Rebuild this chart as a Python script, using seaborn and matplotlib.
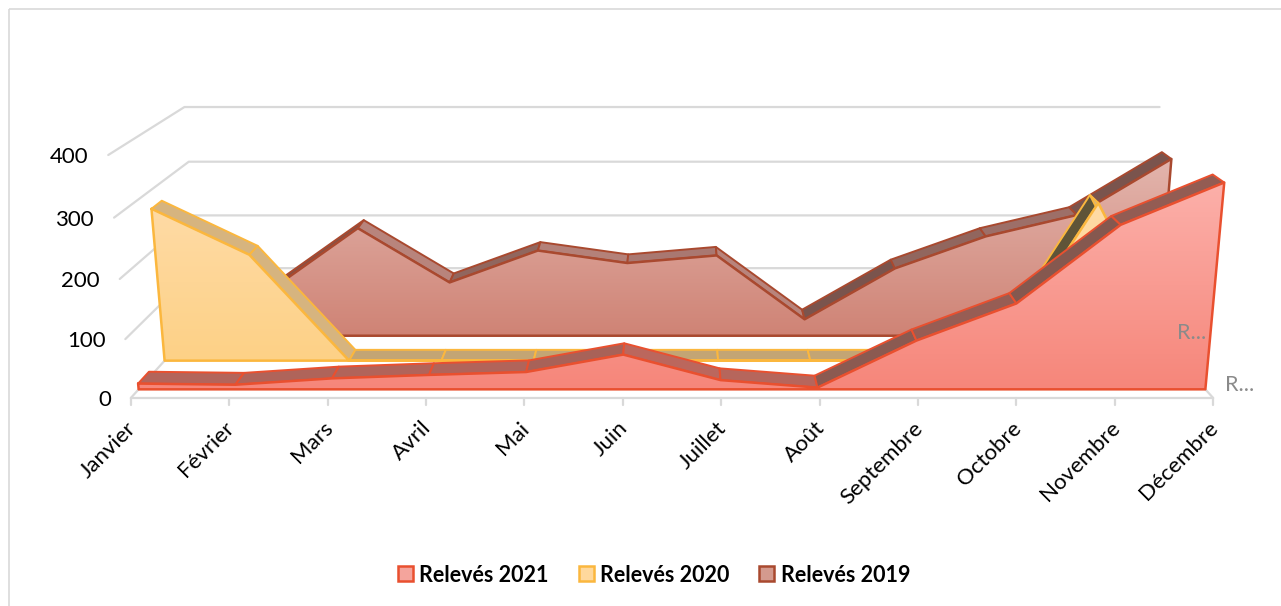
import numpy as np
import pandas as pd
import matplotlib
matplotlib.use("Agg")
import matplotlib.pyplot as plt
from matplotlib.patches import Polygon, Patch, Rectangle
import seaborn as sns

months = ["Janvier", "Février", "Mars", "Avril", "Mai", "Juin", "Juillet",
          "Août", "Septembre", "Octobre", "Novembre", "Décembre"]
value_ticks = [0, 100, 200, 300, 400]

releves_2021 = [10, 8, 19, 25, 30, 60, 16, 3, 84, 147, 278, 347]
releves_2020 = [269, 189, 0, 0, 0, 0, 0, 0, 0, 0, 279, 0]
releves_2019 = [100, 88, 200, 100, 159, 136, 150, 31, 126, 185, 224, 325]

# (name, values, front depth, edge, gradient top, gradient bottom, ribbon lit, ribbon dark)
series = [
    ("Relevés 2019", releves_2019, 0.775, "#a9492f", "#e3b5ad", "#cf8375", "#b8847c", "#7a544d"),
    ("Relevés 2020", releves_2020, 0.444, "#fbb73e", "#ffdba6", "#fdd186", "#d6b47f", "#5f5438"),
    ("Relevés 2021", releves_2021, 0.098, "#e9502f", "#fcb0aa", "#f6867a", "#bb675d", "#85584f"),
]
legend_fill = {"Relevés 2021": "#f4a49c", "Relevés 2020": "#ffd89c", "Relevés 2019": "#d49a8e"}
RIBBON = 0.14


def project(i, v, z):
    # perspective of the 3D chart box: i = month index, v = value, z = depth 0..1, gives pixels
    i, v, z = np.asarray(i, float), np.asarray(v, float) / 100.0, np.asarray(z, float)
    w = 1 + 0.15 * z - 0.01 * v
    px = 672 + 98.4 * (i - 5.5) / w
    py = (398 - 30 * z - 62.3 * v) / w
    return px, py


sns.set_theme(style="white")
plt.rcParams["font.family"] = ["Lato", "DejaVu Sans"]

fig = plt.figure(figsize=(12.81, 6.06), dpi=100)
ax = fig.add_axes([0, 0, 1, 1])
ax.axis("off")

# chart frame runs off the right and bottom of the picture
ax.add_patch(Rectangle((9, 8.5), 1300, 620, fill=False, ec="#d9d9d9", lw=1.2, zorder=0))

# walls, floor and axis
GRID = "#d9d9d9"
for v in value_ticks[1:]:
    xs, ys = project([0, 0, 11], [v, v, v], [0, 1, 1])
    ax.plot(xs, ys, color=GRID, lw=1.6, zorder=1)
xs, ys = project([0, 0], [0, 0], [0, 1])
ax.plot(xs, ys, color=GRID, lw=1.6, zorder=1)
xs, ys = project([11, 11], [0, 0], [0, 1])
ax.plot(xs, ys, color=GRID, lw=1.6, zorder=1)
xs, ys = project([0, 11], [0, 0], [0, 0])
ax.plot(xs, ys, color=GRID, lw=1.6, zorder=1)
for i, m in enumerate(months):
    px, py = project(i, 0, 0)
    ax.plot([px, px], [py, py + 7], color=GRID, lw=1.6, zorder=1)
    ax.text(px - 5, py + 20, m, rotation=45, ha="right", va="top", rotation_mode="anchor",
            fontsize=16, color="#000000")
for v in value_ticks:
    px, py = project(0, v, 0)
    ax.text(px - 20, py + 2, str(v), ha="right", va="center", fontsize=16, color="#000000")

idx = np.arange(12)
for k, (name, vals, z, edge, top, bottom, lit, dark) in enumerate(series):
    base_z = 10 + 10 * k
    vals = np.array(vals, float)
    # top ribbon, shaded by how steep the segment climbs
    ribbon_cmap = sns.blend_palette([lit, dark], as_cmap=True)
    for i in range(11):
        fx, fy = project([i, i + 1], vals[i:i + 2], z)
        rx, ry = project([i, i + 1], vals[i:i + 2], z + RIBBON)
        t = np.clip((vals[i + 1] - vals[i] + 60) / 150, 0, 1) ** 2
        pts = np.column_stack([np.r_[fx, rx[::-1]], np.r_[fy, ry[::-1]]])
        ax.add_patch(Polygon(pts, closed=True, fc=ribbon_cmap(t), ec=edge, lw=1.4,
                             joinstyle="round", zorder=base_z))

    # front face with vertical gradient, clipped to the area outline
    fx, fy = project(idx, vals, z)
    bx, by = project(idx, np.zeros(12), z)
    outline = np.column_stack([np.r_[fx, bx[::-1]], np.r_[fy, by[::-1]]])
    face = Polygon(outline, closed=True, fc="none", ec="none", zorder=base_z + 1)
    ax.add_patch(face)
    grad = np.linspace(0, 1, 256).reshape(-1, 1)
    cmap = sns.blend_palette([top, bottom], as_cmap=True)
    im = ax.imshow(grad, extent=[outline[:, 0].min(), outline[:, 0].max(), by[0], outline[:, 1].min()],
                   aspect="auto", cmap=cmap, zorder=base_z + 1)
    im.set_clip_path(face)

    # outline of the face, front edge of the ribbon
    line_df = pd.DataFrame({"px": np.r_[outline[:, 0], outline[0, 0]],
                            "py": np.r_[outline[:, 1], outline[0, 1]],
                            "order": np.arange(len(outline) + 1)})
    sns.lineplot(data=line_df, x="px", y="py", sort=False, estimator=None, color=edge, lw=1.8,
                 ax=ax, zorder=base_z + 2, legend=False)

# depth axis labels, cut short like in the original
for lab_x, lab_y in [(1177, 333), (1225, 385)]:
    ax.text(lab_x, lab_y, "R...", ha="left", va="center", fontsize=15.5, color="#8a8a8a", zorder=60)

handles = [Patch(fc=legend_fill[s[0]], ec=s[3], lw=1.8, label=s[0]) for s in reversed(series)]
leg = ax.legend(handles=handles, loc="center", bbox_to_anchor=(654 / 1281, 1 - 575 / 606),
                ncol=3, frameon=False, handlelength=0.69, handleheight=0.69, handletextpad=0.3,
                columnspacing=1.4, borderpad=0, prop={"weight": "bold", "size": 15.5})
for t in leg.get_texts():
    t.set_color("#000000")

ax.set_xlim(0, 1281)
ax.set_ylim(606, 0)
fig.savefig("out.png", dpi=100)
